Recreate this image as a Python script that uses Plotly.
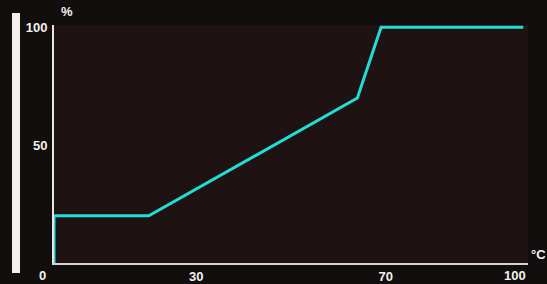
import plotly.graph_objects as go

# data: temperature (°C) vs percent
temp_c = [0, 0, 20, 64, 69, 99]
percent = [0, 20, 20, 70, 100, 100]

x_ticks = [30, 70]
x_tick_text = ["30", "70"]
y_ticks = [50, 100]
y_tick_text = ["50", "100"]

W, H = 547, 284
L, R, T, B = 54, 19, 25, 21
pw, ph = W - L - R, H - T - B

def px_to_paper_x(px):
    return (px - L) / pw

def px_to_paper_y(py):
    return (H - B - py) / ph

FAM = "Liberation Sans, Arial, sans-serif"
fnt = dict(family=FAM, size=13, color="#f4f0ee")

fig = go.Figure()
fig.add_trace(go.Scatter(x=temp_c, y=percent, mode="lines",
                         line=dict(color="#22dcd6", width=3), hoverinfo="skip"))

fig.update_layout(
    width=W, height=H, autosize=False,
    margin=dict(l=L, r=R, t=T, b=B, autoexpand=False),
    paper_bgcolor="#120e0e",
    plot_bgcolor="#1e1212",
    showlegend=False,
    font=fnt,
    xaxis=dict(range=[0, 100], tickvals=x_ticks,
               ticktext=["<b>%s</b>" % t for t in x_tick_text],
               showgrid=False, zeroline=False, showline=True,
               linecolor="#d8d2cc", linewidth=2, ticks="",
               automargin=False, tickfont=fnt),
    yaxis=dict(range=[0, 101], tickvals=y_ticks,
               ticktext=["<b>%s</b>" % t for t in y_tick_text],
               showgrid=False, zeroline=False, showline=True,
               linecolor="#e8e4e0", linewidth=2, ticks="",
               automargin=False, ticklabelstandoff=2, tickfont=fnt),
)

annotations = [
    dict(text="<b>0</b>", x=px_to_paper_x(42), y=px_to_paper_y(275), xanchor="center"),
    dict(text="<b>100</b>", x=px_to_paper_x(515), y=px_to_paper_y(275), xanchor="center"),
    dict(text="<b>%</b>", x=px_to_paper_x(67), y=px_to_paper_y(12), xanchor="center"),
    dict(text="<b>°C</b>", x=px_to_paper_x(547), y=px_to_paper_y(254), xanchor="right"),
]
for a in annotations:
    fig.add_annotation(xref="paper", yref="paper", showarrow=False,
                       yanchor="middle", font=fnt, borderpad=0, **a)

# thick white bar at the left edge
fig.add_shape(type="rect", xref="paper", yref="paper",
              x0=px_to_paper_x(12), x1=px_to_paper_x(20),
              y0=px_to_paper_y(273), y1=px_to_paper_y(13),
              fillcolor="#f2efec", line=dict(width=0), layer="above")

fig.write_html("out.html",
               config={"displayModeBar": False, "responsive": False},
               post_script="document.body.style.margin='0';document.body.style.background='#120e0e';document.body.style.overflow='hidden';")
